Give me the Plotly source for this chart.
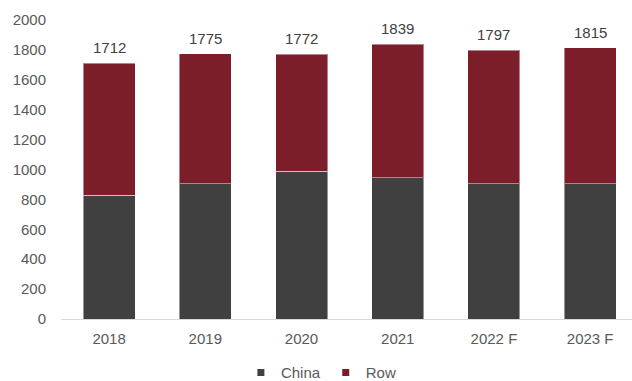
import plotly.graph_objects as go

years = ["2018", "2019", "2020", "2021", "2022 F", "2023 F"]
totals = [1712, 1775, 1772, 1839, 1797, 1815]
china = [828, 904, 987, 944, 904, 904]
row = [t - c for t, c in zip(totals, china)]

CHINA_COLOR = "#404040"
ROW_COLOR = "#7b1e2a"
TEXT_COLOR = "#595959"
FONT = "Liberation Sans, Arial, sans-serif"

fig = go.Figure()
fig.add_trace(go.Bar(
    x=years, y=china, name="China", marker_color=CHINA_COLOR,
    marker_line=dict(color="rgba(255,255,255,0.45)", width=1),
    showlegend=False,
))
fig.add_trace(go.Bar(
    x=years, y=row, name="Row", marker_color=ROW_COLOR,
    marker_line=dict(color="rgba(255,255,255,0.45)", width=1),
    showlegend=False,
))
# legend swatches
for name, color in (("China", CHINA_COLOR), ("Row", ROW_COLOR)):
    fig.add_trace(go.Scatter(
        x=[None], y=[None], mode="markers", name=name,
        marker=dict(symbol="square", size=7, color=color),
    ))

# total labels above each stack (category index positions)
for i, tot in enumerate(totals):
    fig.add_annotation(
        x=i, y=tot, text=str(tot), showarrow=False,
        yanchor="bottom", yshift=5,
        font=dict(size=15, color="#404040", family=FONT),
    )

fig.update_layout(
    width=632, height=381,
    margin=dict(l=61, r=0, t=20, b=62, autoexpand=False),
    barmode="stack", bargap=0.46,
    plot_bgcolor="white", paper_bgcolor="white",
    font=dict(family=FONT, size=15, color=TEXT_COLOR),
    legend=dict(
        orientation="h", x=0.456, xanchor="center", y=-0.18, yanchor="middle",
        font=dict(size=15, color=TEXT_COLOR), itemwidth=30,
        traceorder="normal",
    ),
    xaxis=dict(
        type="category", categoryorder="array", categoryarray=years,
        range=[-0.5, 5.435], showline=True, linecolor="#d9d9d9", linewidth=1,
        ticks="", showgrid=False, tickfont=dict(size=15, color=TEXT_COLOR),
        ticklabelstandoff=6,
    ),
    yaxis=dict(
        range=[0, 2000], dtick=200, showgrid=False, zeroline=False,
        showline=False, ticks="", tickfont=dict(size=15, color=TEXT_COLOR),
        ticklabelstandoff=14,
    ),
)

fig.write_html("out.html")
